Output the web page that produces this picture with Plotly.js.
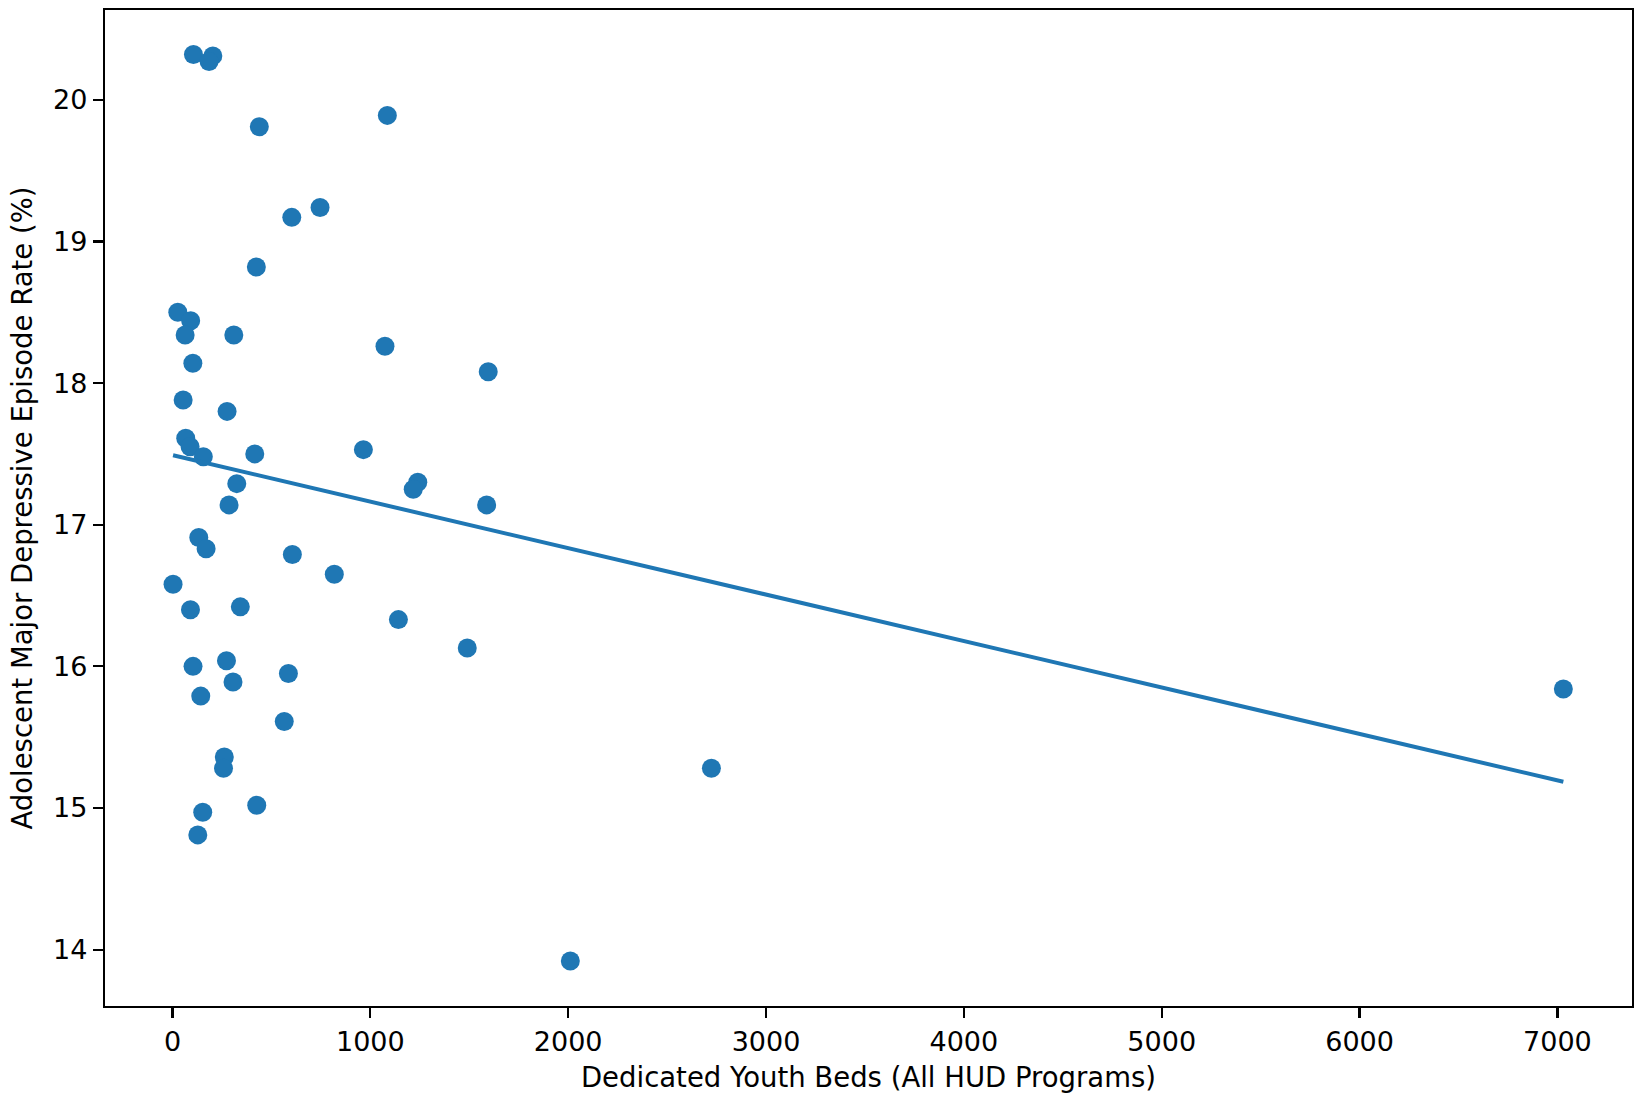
<!DOCTYPE html>
<html>
<head>
<meta charset="utf-8">
<script src="https://cdn.plot.ly/plotly-3.0.1.min.js"></script>
<style>
  html, body { margin: 0; padding: 0; background: #fff; }
  #chart { width: 1638px; height: 1102px; }
</style>
</head>
<body>
<div id="chart"></div>
<script>
// Dedicated youth beds vs adolescent MDE rate, one point per state
const bedsX = [106, 204, 185, 439, 1086, 746, 603, 424, 27, 92,
               64, 310, 1074, 103, 1596, 54, 276, 67, 89, 156,
               416, 965, 325, 1240, 1217, 286, 1588, 133, 170, 606,
               818, 3, 91, 343, 1142, 1490, 104, 273, 586, 306,
               143, 565, 7030, 262, 258, 2724, 153, 426, 128, 2011];
const mdeRate = [20.32, 20.31, 20.27, 19.81, 19.89, 19.24, 19.17, 18.82, 18.50, 18.44,
                 18.34, 18.34, 18.26, 18.14, 18.08, 17.88, 17.80, 17.61, 17.55, 17.48,
                 17.50, 17.53, 17.29, 17.30, 17.25, 17.14, 17.14, 16.91, 16.83, 16.79,
                 16.65, 16.58, 16.40, 16.42, 16.33, 16.13, 16.00, 16.04, 15.95, 15.89,
                 15.79, 15.61, 15.84, 15.36, 15.28, 15.28, 14.97, 15.02, 14.81, 13.92];

// fitted trend line, ends
const fitX = [3, 7030];
const fitY = [17.49, 15.185];

const xTicks = [0, 1000, 2000, 3000, 4000, 5000, 6000, 7000];
const yTicks = [14, 15, 16, 17, 18, 19, 20];

const BLUE = "#1f77b4";
const FONT = "DejaVu Sans, Liberation Sans, sans-serif";

const traces = [
  {
    x: bedsX, y: mdeRate, type: "scatter", mode: "markers",
    marker: { color: BLUE, size: 19, line: { width: 0 } },
    hoverinfo: "x+y",
  },
  {
    x: fitX, y: fitY, type: "scatter", mode: "lines",
    line: { color: BLUE, width: 4 },
    hoverinfo: "skip",
  },
];

const axisBase = {
  showline: true, mirror: true, linecolor: "#000", linewidth: 2.2,
  ticks: "outside", ticklen: 10, tickwidth: 2.2, tickcolor: "#000",
  showgrid: false, zeroline: false,
  tickfont: { family: FONT, size: 27, color: "#000" },
  automargin: false,
};

const layout = {
  width: 1638, height: 1102,
  paper_bgcolor: "#fff", plot_bgcolor: "#fff",
  font: { family: FONT, color: "#000", size: 27 },
  margin: { l: 105, r: 6, t: 10, b: 96 },
  showlegend: false,
  xaxis: Object.assign({}, axisBase, {
    range: [-341, 7377], tickvals: xTicks, ticktext: xTicks.map(String),
    title: { text: "Dedicated Youth Beds (All HUD Programs)", font: { family: FONT, size: 27.5 }, standoff: 12 },
  }),
  yaxis: Object.assign({}, axisBase, {
    range: [13.602, 20.634], tickvals: yTicks, ticktext: yTicks.map(String),
    title: { text: "Adolescent Major Depressive Episode Rate (%)", font: { family: FONT, size: 27.5 }, standoff: 13 },
  }),
};

Plotly.newPlot("chart", traces, layout, { displayModeBar: false, staticPlot: true });
</script>
</body>
</html>
